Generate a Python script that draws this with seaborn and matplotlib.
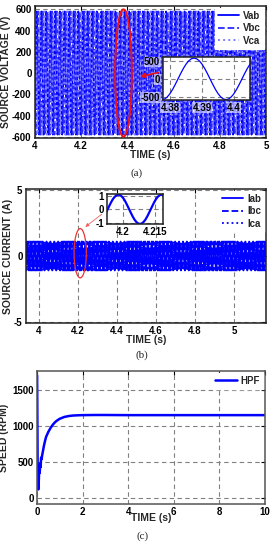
import numpy as np
import pandas as pd
import seaborn as sns
import matplotlib.pyplot as plt
from matplotlib.patches import Ellipse

# one 20 ms cycle of each phase quantity (24 samples per cycle)
VAB_CYCLE = [0, 150, 290, 410, 502, 560, 580, 560, 502, 410, 290, 150,
             0, -150, -290, -410, -502, -560, -580, -560, -502, -410, -290, -150]
IAB_CYCLE = [0, 0.28, 0.55, 0.78, 0.95, 1.06, 1.1, 1.06, 0.95, 0.78, 0.55, 0.28,
             0, -0.28, -0.55, -0.78, -0.95, -1.06, -1.1, -1.06, -0.95, -0.78, -0.55, -0.28]
PERIOD = 0.02
V_START = 3.9825      # a rising zero crossing of Vab
I_START = 3.913       # a rising zero crossing of Iab
V_CYCLES = 52
I_CYCLES = 63

# speed response
speed_t = [0, 0.005, 0.03, 0.06, 0.08, 0.1, 0.12, 0.14, 0.16, 0.18, 0.2, 0.23, 0.26,
           0.3, 0.35, 0.4, 0.5, 0.6, 0.7, 0.8, 0.9, 1.0, 1.2, 1.4, 1.6, 1.8, 2.0,
           2.5, 3, 4, 5, 6, 7, 8, 9, 10]
speed_rpm = [1700, 1700, 300, 120, 250, 420, 350, 480, 430, 560, 540, 600, 650,
             720, 790, 850, 920, 975, 1020, 1055, 1080, 1100, 1125, 1138, 1145, 1148, 1150,
             1152, 1152, 1150, 1150, 1150, 1150, 1150, 1150, 1150]

volt_xticks = [4, 4.2, 4.4, 4.6, 4.8, 5]
volt_xlabels = ['4', '4.2', '4.4', '4.6', '4.8', '5']
volt_yticks = [-600, -400, -200, 0, 200, 400, 600]
volt_inset_xticks = [4.38, 4.39, 4.4]
volt_inset_xlabels = ['4.38', '4.39', '4.4']
volt_inset_yticks = [-500, 0, 500]
cur_xticks = [4, 4.2, 4.4, 4.6, 4.8, 5]
cur_xlabels = ['4', '4.2', '4.4', '4.6', '4.8', '5']
cur_yticks = [-5, 0, 5]
cur_inset_xticks = [4.2, 4.215]
cur_inset_xlabels = ['4.2', '4.215']
cur_inset_yticks = [-1, 0, 1]
spd_xticks = [0, 2, 4, 6, 8, 10]
spd_yticks = [0, 500, 1000, 1500]

sns.set_theme(style='white')
plt.rcParams['font.family'] = ['Liberation Sans', 'DejaVu Sans']
plt.rcParams['font.weight'] = 'bold'
plt.rcParams['axes.labelweight'] = 'bold'
plt.rcParams['axes.unicode_minus'] = False

BLUE = '#0000ff'
GRID = dict(color='#808080', linestyle=(0, (4, 3)), linewidth=0.8)
FS = 7


def three_phase(cycle, start, n):
    base = np.tile(cycle, n)
    t = start + np.arange(len(base)) * PERIOD / len(cycle)
    shift = len(cycle) // 3
    return pd.DataFrame({'t': t, 'a': base,
                         'b': np.roll(base, shift), 'c': np.roll(base, 2 * shift)})


def style_axes(ax, fs=FS):
    for s in ax.spines.values():
        s.set_visible(True)
        s.set_color('#222222')
        s.set_linewidth(1.1)
    ax.tick_params(direction='in', top=True, right=True, length=3, width=0.8,
                   labelsize=fs, pad=2.5, colors='black')
    ax.grid(True, **GRID)
    ax.set_axisbelow(True)


def leg(ax):
    lg = ax.legend(loc='upper right', fontsize=7, frameon=True, fancybox=False,
                   edgecolor='white', framealpha=1, borderaxespad=0.2,
                   handlelength=2.2, handletextpad=0.4, labelspacing=0.25, borderpad=0.3)
    for tx in lg.get_texts():
        tx.set_fontweight('bold')


def halo_labels(ax):
    for lab in ax.get_xticklabels() + ax.get_yticklabels():
        lab.set_bbox(dict(facecolor='white', edgecolor='none', alpha=0.55, pad=0.3))


fig = plt.figure(figsize=(2.74, 5.5), dpi=100)

# ---------------- (a) source voltage
va = three_phase(VAB_CYCLE, V_START, V_CYCLES)
ax1 = fig.add_axes([35 / 274, 1 - 138 / 550, 231 / 274, 132 / 550])
sns.lineplot(data=va, x='t', y='a', ax=ax1, color=BLUE, lw=1.3, label='Vab', estimator=None)
sns.lineplot(data=va, x='t', y='b', ax=ax1, color='#2a2aff', lw=1.3, ls='--', label='Vbc', estimator=None)
sns.lineplot(data=va, x='t', y='c', ax=ax1, color='#8080ff', lw=1.4, ls=':', label='Vca', estimator=None)
ax1.set_xlim(4, 5)
ax1.set_ylim(-612, 632)
ax1.set_xticks(volt_xticks, volt_xlabels)
ax1.set_yticks(volt_yticks)
style_axes(ax1)
ax1.set_xlabel('TIME (s)', fontsize=7.5, labelpad=-1)
ax1.set_ylabel('SOURCE VOLTAGE (V)', fontsize=7.5, labelpad=1)
leg(ax1)
ax1.add_patch(Ellipse((4.383, 0), 0.072, 1200, fill=False, ec='#ee1111', lw=1.4, zorder=5))
ax1.annotate('', xy=(4.442, -40), xytext=(4.545, 10),
             arrowprops=dict(arrowstyle='-|>', color='#ee1111', lw=1.2, mutation_scale=7), zorder=6)

in1 = fig.add_axes([163 / 274, 1 - 100 / 550, 87 / 274, 43 / 550])
sns.lineplot(data=va, x='t', y='a', ax=in1, color=BLUE, lw=0.9, estimator=None)
in1.set_facecolor('white')
in1.set_xlim(4.3778, 4.405)
in1.set_ylim(-590, 610)
in1.set_xticks(volt_inset_xticks, volt_inset_xlabels)
in1.set_yticks(volt_inset_yticks)
style_axes(in1)
in1.tick_params(top=False, right=False, length=2, pad=2)
in1.set_xlabel('')
in1.set_ylabel('')
halo_labels(in1)

# ---------------- (b) source current
ia = three_phase(IAB_CYCLE, I_START, I_CYCLES)
ax2 = fig.add_axes([26 / 274, 1 - 323 / 550, 240 / 274, 134 / 550])
sns.lineplot(data=ia, x='t', y='a', ax=ax2, color=BLUE, lw=1.3, label='Iab', estimator=None)
sns.lineplot(data=ia, x='t', y='b', ax=ax2, color=BLUE, lw=1.3, ls='--', label='Ibc', estimator=None)
sns.lineplot(data=ia, x='t', y='c', ax=ax2, color=BLUE, lw=1.3, ls=':', label='Ica', estimator=None)
ax2.set_xlim(3.933, 5.164)
ax2.set_ylim(-5.1, 5.1)
ax2.set_xticks(cur_xticks, cur_xlabels)
ax2.set_yticks(cur_yticks)
style_axes(ax2)
ax2.set_xlabel('TIME (s)', fontsize=7.5, labelpad=-1)
ax2.set_ylabel('SOURCE CURRENT (A)', fontsize=7.5, labelpad=1)
leg(ax2)
ax2.add_patch(Ellipse((4.211, 0.21), 0.063, 3.75, fill=False, ec='#ee3333', lw=0.9, zorder=5))
ax2.annotate('', xy=(4.226, 2.09), xytext=(4.333, 3.31),
             arrowprops=dict(arrowstyle='-|>', color='#f06060', lw=0.6, mutation_scale=5), zorder=6)

in2 = fig.add_axes([107 / 274, 1 - 224 / 550, 56 / 274, 30 / 550])
sns.lineplot(data=ia, x='t', y='a', ax=in2, color=BLUE, lw=1.6, estimator=None)
in2.set_facecolor('white')
in2.set_xlim(4.1927, 4.2187)
in2.set_ylim(-1.1, 1.15)
in2.set_xticks(cur_inset_xticks, cur_inset_xlabels)
in2.set_yticks(cur_inset_yticks)
style_axes(in2)
in2.tick_params(top=False, right=False, length=2, pad=2)
in2.set_xlabel('')
in2.set_ylabel('')

# ---------------- (c) speed
ax3 = fig.add_axes([37 / 274, 46 / 550, 228 / 274, 133 / 550])
sns.lineplot(x=speed_t, y=speed_rpm, ax=ax3, color=BLUE, lw=1.8, label='HPF', estimator=None)
ax3.set_xlim(0, 10)
ax3.set_ylim(-82, 1762)
ax3.set_xticks(spd_xticks)
ax3.set_yticks(spd_yticks)
style_axes(ax3)
for s in ax3.spines.values():
    s.set_color('#555555')
ax3.set_xlabel('TIME (s)', fontsize=7.5, labelpad=-3)
ax3.set_ylabel('SPEED (RPM)', fontsize=7.5, labelpad=2)
leg(ax3)

for x, y, s in [(137, 173, '(a)'), (142, 355, '(b)'), (143, 536, '(c)')]:
    fig.text(x / 274, 1 - y / 550, s, ha='center', va='center', fontsize=8,
             family=['Liberation Serif', 'DejaVu Serif'], fontweight='normal')

fig.savefig('out.png', dpi=100)
